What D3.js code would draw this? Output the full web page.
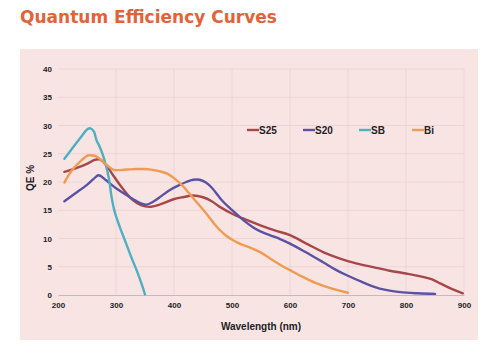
<!DOCTYPE html>
<html><head><meta charset="utf-8">
<script src="https://cdn.jsdelivr.net/npm/d3@7"></script>
<style>
html,body{margin:0;padding:0;background:#fff;}
svg{display:block;}
</style></head>
<body>
<svg id="chart" width="489" height="355"></svg>
<script>
const title = "Quantum Efficiency Curves";
const xTicks = [200,300,400,500,600,700,800,900];
const yTicks = [0,5,10,15,20,25,30,35,40];
const seriesNames = ["S25","S20","SB","Bi"];
const seriesColors = ["#a8474a","#5a52a2","#4cb0c2","#f09a52"];

const s25 = [[211,21.8],[230,22.4],[250,23.2],[263,23.9],[272,24.0],[283,23.0],[295,21.2],[306,19.6],[318,18.0],[329,16.8],[343,15.9],[358,15.6],[375,16.0],[398,16.9],[415,17.3],[433,17.6],[450,17.3],[465,16.6],[479,15.6],[502,14.3],[525,13.3],[550,12.3],[575,11.4],[600,10.6],[630,9.0],[657,7.6],[685,6.5],[714,5.6],[745,4.9],[772,4.3],[800,3.8],[825,3.3],[844,2.8],[860,2.0],[872,1.4],[885,0.8],[898,0.3]];
const s20 = [[211,16.6],[230,18.0],[250,19.5],[262,20.6],[270,21.2],[283,20.3],[300,18.9],[315,17.9],[329,17.0],[341,16.3],[352,16.0],[364,16.5],[378,17.5],[393,18.6],[408,19.4],[421,20.0],[433,20.4],[444,20.4],[455,19.9],[466,18.9],[476,17.6],[484,16.6],[495,15.5],[507,14.4],[520,13.2],[536,12.0],[548,11.3],[565,10.6],[583,9.9],[600,9.1],[625,7.7],[657,5.8],[680,4.4],[698,3.5],[722,2.4],[744,1.5],[765,0.9],[790,0.5],[820,0.3],[850,0.2]];
const sb = [[211,24.1],[225,26.0],[240,28.0],[250,29.3],[256,29.5],[262,28.9],[266,27.5],[272,26.2],[278,24.6],[283,22.8],[288,20.5],[292,17.6],[297,15.0],[306,12.2],[316,9.5],[326,6.8],[337,4.0],[344,2.0],[350,0.1]];
const bi = [[211,19.9],[225,22.2],[240,23.8],[252,24.7],[258,24.7],[265,24.6],[272,24.1],[283,23.1],[295,22.2],[306,22.1],[320,22.2],[335,22.3],[347,22.3],[360,22.2],[375,21.9],[390,21.4],[402,20.5],[415,19.3],[427,17.9],[441,16.2],[456,14.4],[468,12.8],[479,11.5],[490,10.5],[502,9.7],[515,9.0],[528,8.5],[540,8.0],[550,7.5],[565,6.5],[582,5.4],[600,4.4],[622,3.2],[645,2.1],[670,1.2],[700,0.4]];
const seriesData = [s25, s20, sb, bi];

const svg = d3.select("#chart");
const W = 489, H = 355;
const panel = {x:20, y:49, w:458, h:291};
const m = {left:58, right:464, top:69, bottom:295};

svg.append("text").attr("x",20).attr("y",23)
  .attr("font-family","DejaVu Sans, sans-serif").attr("font-weight","bold")
  .attr("font-size",17).attr("fill","#e3623a")
  .attr("textLength",257).attr("lengthAdjust","spacingAndGlyphs")
  .text(title);

svg.append("rect").attr("x",panel.x).attr("y",panel.y).attr("width",panel.w).attr("height",panel.h).attr("fill","#f9e4e4");

const x = d3.scaleLinear().domain([200,900]).range([m.left,m.right]);
const y = d3.scaleLinear().domain([0,40]).range([m.bottom,m.top]);

// grid
const g = svg.append("g");
g.selectAll(".hg").data(yTicks.filter(d=>d>0)).join("line")
  .attr("x1",m.left).attr("x2",m.right).attr("y1",d=>y(d)).attr("y2",d=>y(d))
  .attr("stroke","#ead0d0").attr("stroke-width",0.8);
g.selectAll(".vg").data(xTicks.filter(d=>d>200)).join("line")
  .attr("x1",d=>x(d)).attr("x2",d=>x(d)).attr("y1",m.top).attr("y2",m.bottom)
  .attr("stroke","#ead0d0").attr("stroke-width",0.8);

// axes
const xAxis = d3.axisBottom(x).tickValues(xTicks).tickSize(0).tickPadding(7);
const xa = svg.append("g").attr("transform",`translate(0,${m.bottom})`).call(xAxis);
xa.select(".domain").attr("stroke","#c9b8b8").attr("stroke-width",1);
xa.selectAll("text").attr("font-family","Liberation Sans, Arial, sans-serif").attr("font-weight","bold").attr("font-size",8).attr("fill","#222");

const yAxis = d3.axisLeft(y).tickValues(yTicks).tickSize(0).tickPadding(6);
const ya = svg.append("g").attr("transform",`translate(${m.left},0)`).call(yAxis);
ya.select(".domain").remove();
ya.selectAll("text").attr("font-family","Liberation Sans, Arial, sans-serif").attr("font-weight","bold").attr("font-size",8).attr("fill","#222");

// lines
const line = d3.line().x(d=>x(d[0])).y(d=>y(d[1])).curve(d3.curveCatmullRom.alpha(0.5));
seriesData.forEach((s,i)=>{
  svg.append("path").datum(s).attr("d",line).attr("fill","none")
    .attr("stroke",seriesColors[i]).attr("stroke-width",2.4)
    .attr("stroke-linejoin","round").attr("stroke-linecap","round");
});

// legend
const legX = [247,303,359,412];
const leg = svg.append("g");
seriesNames.forEach((n,i)=>{
  leg.append("line").attr("x1",legX[i]).attr("x2",legX[i]+12).attr("y1",130).attr("y2",130)
    .attr("stroke",seriesColors[i]).attr("stroke-width",2.4);
  leg.append("text").attr("x",legX[i]+12).attr("y",133.5)
    .attr("font-family","Liberation Sans, Arial, sans-serif").attr("font-weight","bold")
    .attr("font-size",10).attr("fill","#222").text(n);
});

// axis titles
svg.append("text").attr("x",(m.left+m.right)/2).attr("y",330).attr("text-anchor","middle")
  .attr("font-family","Liberation Sans, Arial, sans-serif").attr("font-weight","bold")
  .attr("font-size",10).attr("fill","#222").text("Wavelength (nm)");
svg.append("text").attr("transform","translate(34,178) rotate(-90)").attr("text-anchor","middle")
  .attr("font-family","Liberation Sans, Arial, sans-serif").attr("font-weight","bold")
  .attr("font-size",10).attr("fill","#222").text("QE %");
</script>
</body></html>
